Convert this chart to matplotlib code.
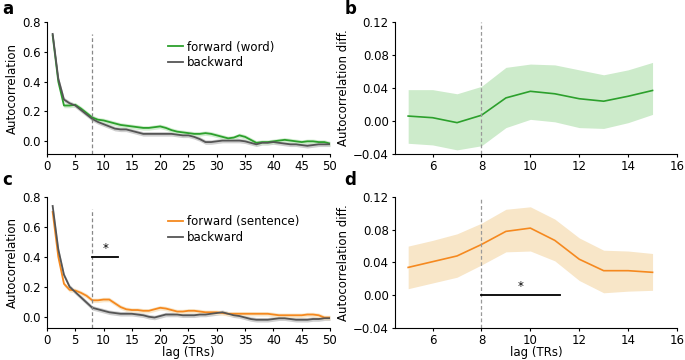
import numpy as np
import matplotlib
matplotlib.use("Agg")
import matplotlib.pyplot as plt

plt.rcParams['font.family'] = ['DejaVu Sans']
plt.rcParams['font.size'] = 8.5

lags = np.arange(1, 51)

fwd_word = [0.71, 0.40, 0.24, 0.24, 0.245, 0.22, 0.19, 0.16, 0.145, 0.14,
            0.13, 0.12, 0.11, 0.105, 0.10, 0.095, 0.09, 0.09, 0.095, 0.10,
            0.09, 0.075, 0.065, 0.06, 0.055, 0.05, 0.05, 0.055, 0.05, 0.04,
            0.03, 0.02, 0.025, 0.04, 0.03, 0.01, -0.01, -0.005, -0.005, 0.0,
            0.005, 0.01, 0.005, 0.0, -0.005, 0.0, 0.0, -0.005, -0.005, -0.015]
bwd_word = [0.72, 0.42, 0.28, 0.255, 0.24, 0.21, 0.18, 0.15, 0.13, 0.115,
            0.10, 0.085, 0.08, 0.08, 0.07, 0.06, 0.05, 0.05, 0.05, 0.05,
            0.05, 0.05, 0.045, 0.04, 0.04, 0.03, 0.015, -0.005, -0.005, 0.0,
            0.005, 0.005, 0.005, 0.005, 0.0, -0.01, -0.02, -0.01, -0.01, -0.005,
            -0.01, -0.015, -0.02, -0.02, -0.025, -0.03, -0.025, -0.02, -0.02, -0.02]

fwd_sent = [0.70, 0.40, 0.22, 0.18, 0.175, 0.16, 0.14, 0.11, 0.11, 0.115,
            0.115, 0.09, 0.065, 0.05, 0.045, 0.045, 0.04, 0.04, 0.05, 0.06,
            0.055, 0.045, 0.035, 0.035, 0.04, 0.04, 0.035, 0.03, 0.03, 0.03,
            0.025, 0.02, 0.02, 0.02, 0.02, 0.02, 0.02, 0.02, 0.02, 0.015,
            0.01, 0.01, 0.01, 0.01, 0.01, 0.015, 0.015, 0.01, -0.005, -0.005]
bwd_sent = [0.74, 0.45, 0.28, 0.20, 0.165, 0.13, 0.095, 0.06, 0.05, 0.04,
            0.03, 0.025, 0.02, 0.02, 0.02, 0.015, 0.01, 0.0, -0.005, 0.005,
            0.015, 0.015, 0.015, 0.01, 0.01, 0.01, 0.015, 0.015, 0.02, 0.025,
            0.03, 0.02, 0.01, 0.005, -0.005, -0.015, -0.02, -0.02, -0.02, -0.015,
            -0.01, -0.01, -0.015, -0.02, -0.02, -0.02, -0.015, -0.015, -0.01, -0.01]
band_err = 0.015

diff_lags = np.arange(5, 16)
diff_word = [0.006, 0.004, -0.002, 0.007, 0.028, 0.036, 0.033, 0.027, 0.024, 0.030, 0.037]
diff_word_hi = [0.038, 0.038, 0.033, 0.042, 0.065, 0.069, 0.068, 0.062, 0.056, 0.062, 0.071]
diff_word_lo = [-0.027, -0.029, -0.035, -0.030, -0.008, 0.002, -0.001, -0.008, -0.009, -0.002, 0.008]

diff_sent = [0.034, 0.041, 0.048, 0.062, 0.078, 0.082, 0.067, 0.044, 0.030, 0.030, 0.028]
diff_sent_hi = [0.060, 0.067, 0.075, 0.088, 0.105, 0.108, 0.093, 0.070, 0.055, 0.054, 0.051]
diff_sent_lo = [0.008, 0.015, 0.022, 0.037, 0.053, 0.054, 0.042, 0.018, 0.003, 0.005, 0.006]

green = '#2ca02c'
green_fill = '#cdebcb'
orange = '#f5891f'
orange_fill = '#f8e6c8'
gray = '#555555'
gray_fill = '#cfcfcf'

fig = plt.figure(figsize=(6.85, 3.6), dpi=100)
ax_a = fig.add_axes([0.0686, 0.5722, 0.4131, 0.3667])
ax_b = fig.add_axes([0.5766, 0.5722, 0.4117, 0.3667])
ax_c = fig.add_axes([0.0686, 0.0889, 0.4131, 0.3639])
ax_d = fig.add_axes([0.5766, 0.0889, 0.4117, 0.3639])


def auto_panel(ax, fwd, bwd, col, fcol, label, ybot):
    fwd = np.array(fwd)
    bwd = np.array(bwd)
    ax.fill_between(lags, bwd - band_err, bwd + band_err, color=gray_fill, lw=0)
    ax.fill_between(lags, fwd - band_err, fwd + band_err, color=fcol, alpha=0.9, lw=0)
    ax.plot(lags, fwd, color=col, lw=1.3, label=label)
    ax.plot(lags, bwd, color=gray, lw=1.3, label='backward')
    ax.vlines(8, ybot, 0.72, colors='#888888', linestyles=(0, (3, 2)), lw=0.9)
    ax.set_xlim(0, 50)
    ax.set_ylim(ybot, 0.8)
    ax.set_xticks(range(0, 51, 5))
    ax.set_yticks([0.0, 0.2, 0.4, 0.6, 0.8])
    ax.set_ylabel('Autocorrelation', labelpad=2)
    ax.legend(loc='upper left', bbox_to_anchor=(0.39, 0.94), frameon=False,
              handlelength=1.3, handletextpad=0.3, labelspacing=0.25, fontsize=8.5)


def diff_panel(ax, m, lo, hi, col, fcol):
    ax.fill_between(diff_lags, lo, hi, color=fcol, lw=0)
    ax.plot(diff_lags, m, color=col, lw=1.2)
    ax.axvline(8, color='#999999', ls=(0, (3, 2)), lw=0.9)
    ax.set_xlim(4.46, 16)
    ax.set_ylim(-0.04, 0.12)
    ax.set_xticks([6, 8, 10, 12, 14, 16])
    ax.set_yticks([-0.04, 0.0, 0.04, 0.08, 0.12])
    ax.set_yticklabels(['\u22120.04', '0.00', '0.04', '0.08', '0.12'])
    ax.set_ylabel('Autocorrelation diff.', labelpad=2)


auto_panel(ax_a, fwd_word, bwd_word, green, green_fill, 'forward (word)', -0.085)
auto_panel(ax_c, fwd_sent, bwd_sent, orange, orange_fill, 'forward (sentence)', -0.075)
diff_panel(ax_b, diff_word, diff_word_lo, diff_word_hi, green, green_fill)
diff_panel(ax_d, diff_sent, diff_sent_lo, diff_sent_hi, orange, orange_fill)

# significance markers
ax_c.plot([8, 12.6], [0.4, 0.4], color='black', lw=1.3)
ax_c.text(10.4, 0.415, '*', ha='center', va='bottom', fontsize=8.5)
ax_d.plot([8, 11.2], [0.0, 0.0], color='black', lw=1.3)
ax_d.text(9.6, 0.003, '*', ha='center', va='bottom', fontsize=8.5)

for ax in (ax_a, ax_b, ax_c, ax_d):
    ax.spines['top'].set_visible(False)
    ax.spines['right'].set_visible(False)
    ax.tick_params(labelsize=8.5, length=2.5, pad=2)

ax_c.set_xlabel('lag (TRs)', labelpad=-1)
ax_d.set_xlabel('lag (TRs)', labelpad=-1)

for lab, x, y in [('a', 0.003, 1.0), ('b', 0.503, 1.0), ('c', 0.003, 0.525), ('d', 0.503, 0.525)]:
    fig.text(x, y, lab, fontsize=12, fontweight='bold', va='top', ha='left')

fig.savefig('out.png', dpi=100)
